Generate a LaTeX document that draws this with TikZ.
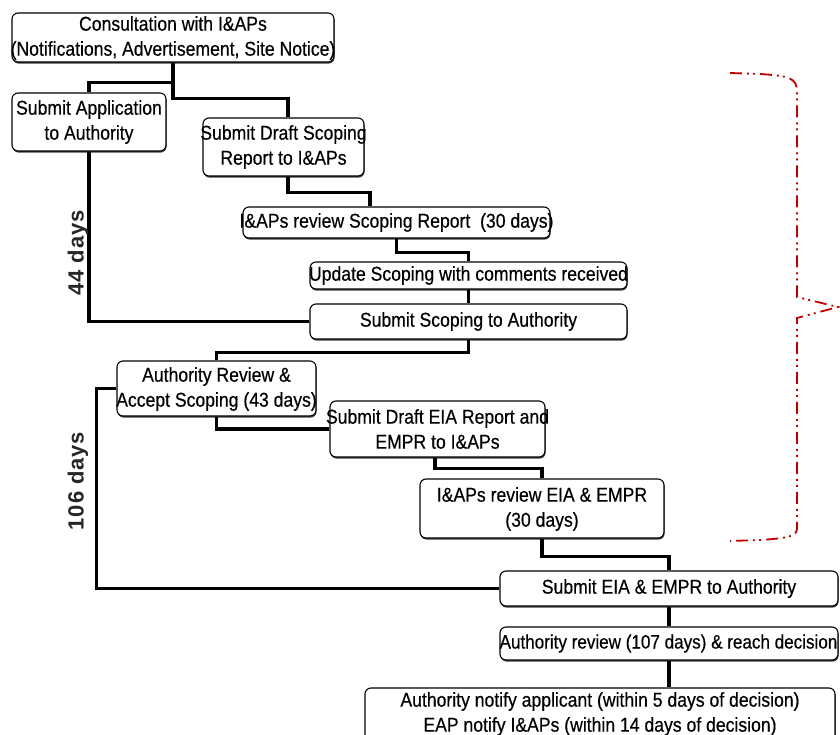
\documentclass[tikz,border=0pt]{standalone}
\usepackage{fontspec}
\setmainfont{Liberation Sans}[FakeStretch=0.88, FakeBold=0.4]
\newfontfamily\daysfont{Liberation Sans}[LetterSpace=4]
\usetikzlibrary{shadows}
\definecolor{bracered}{HTML}{C00000}
\definecolor{daysgray}{HTML}{262626}
\begin{document}
\begin{tikzpicture}[x=1pt,y=-1pt,
  box/.style={draw=black, line width=1.1pt, rounded corners=6pt, fill=white, inner sep=0pt,
    drop shadow={shadow xshift=0.6pt, shadow yshift=-1.6pt, fill=black!75, opacity=1}},
  txt/.style={inner sep=0pt, align=center, font=\fontsize{20}{25}\selectfont},
  conn/.style={line width=3.2pt, line join=miter},
  days/.style={rotate=90, inner sep=0pt, text=daysgray, font=\daysfont\bfseries\fontsize{22}{26}\selectfont},
  bracepath/.style={draw=bracered, line width=1.8pt, line cap=butt,
    dash pattern=on 12pt off 5pt on 2pt off 4pt on 2pt off 5pt}]
\useasboundingbox (0,0) rectangle (840,735);
\clip (0,0) rectangle (840,735);

% boxes
\node[box, minimum width=322, minimum height=49] (consult) at (173,37.5) {};
\node[txt] (consultT) at (173,38) {Consultation with I\&APs\\(Notifications, Advertisement, Site Notice)};

\node[box, minimum width=154, minimum height=58] (subapp) at (89,122) {};
\node[txt] (subappT) at (89,122) {Submit Application\\to Authority};

\node[box, minimum width=161, minimum height=58] (draftscope) at (283.5,147) {};
\node[txt] (draftscopeT) at (283.5,147) {Submit Draft Scoping\\Report to I\&APs};

\node[box, minimum width=307, minimum height=31] (revscope) at (396.5,222.5) {};
\node[txt] (revscopeT) at (396.5,222.5) {I\&APs review Scoping Report~ (30 days)};

\node[box, minimum width=317, minimum height=27] (update) at (468.5,275.5) {};
\node[txt] (updateT) at (468.5,275.5) {Update Scoping with comments received};

\node[box, minimum width=317, minimum height=35] (subscope) at (468.5,321.5) {};
\node[txt] (subscopeT) at (468.5,321.5) {Submit Scoping to Authority};

\node[box, minimum width=199, minimum height=55] (authrev) at (216.5,388.5) {};
\node[txt] (authrevT) at (216.5,389) {Authority Review \&\\Accept Scoping (43 days)};

\node[box, minimum width=215, minimum height=56] (drafteia) at (437.5,429) {};
\node[txt] (drafteiaT) at (437.5,429) {Submit Draft EIA Report and\\EMPR to I\&APs};

\node[box, minimum width=244, minimum height=59] (reveia) at (542,508.5) {};
\node[txt] (reveiaT) at (542,509) {I\&APs review EIA \& EMPR\\(30 days)};

\node[box, minimum width=338, minimum height=35] (subeia) at (669,588.5) {};
\node[txt] (subeiaT) at (669,588.5) {Submit EIA \& EMPR to Authority};

\node[box, minimum width=338, minimum height=33] (decide) at (669,643.5) {};
\node[txt, font=\fontsize{19.4}{25}\selectfont] (decideT) at (668.5,643.5) {Authority review (107 days) \& reach decision};

\node[box, minimum width=470, minimum height=60] (notify) at (600,718) {};
\node[txt] (notifyT) at (600,714) {Authority notify applicant (within 5 days of decision)\\EAP notify I\&APs (within 14 days of decision)};

% connectors
\draw[conn] (consult.south) -- ++(0,20) -| (subapp.north);
\draw[conn] (consult.south) -- ++(0,36) -| ([xshift=4.5pt]draftscope.north);
\draw[conn] (subapp.south) |- (subscope.west);
\draw[conn] ([xshift=4.5pt]draftscope.south) -- ++(0,16) -| ([xshift=-26.5pt]revscope.north);
\draw[conn] (revscope.south) -- ++(0,14) -| (update.north);
\draw[conn] (update.south) -- (subscope.north);
\draw[conn] (subscope.south) -- ++(0,13) -| (authrev.north);
\draw[conn] (authrev.south) |- (drafteia.west);
\draw[conn] ([xshift=-2.5pt]drafteia.south) -- ++(0,11) -| (reveia.north);
\draw[conn] (reveia.south) -- ++(0,18) -| (subeia.north);
\draw[conn] (authrev.west) -- ++(-20,0) |- (subeia.west);
\draw[conn] (subeia.south) -- (decide.north);
\draw[conn] (decide.south) -- (decide.south |- notify.north);

% day labels
\node[days] (d44) at (78,253) {44 days};
\node[days] (d106) at (78,481) {106 days};

% red brace
\coordinate (bTop) at (730,73);
\coordinate (bTip) at (838,307);
\coordinate (bBot) at (730,541);
\draw[bracepath] (bTop) -- (760,74) .. controls (790,76) and (797,78) .. (797,92)
  -- (797,297) -- (bTip) -- (797,318) -- (797,528)
  .. controls (797,536) and (790,538) .. (760,540) -- (bBot);
\end{tikzpicture}
\end{document}
